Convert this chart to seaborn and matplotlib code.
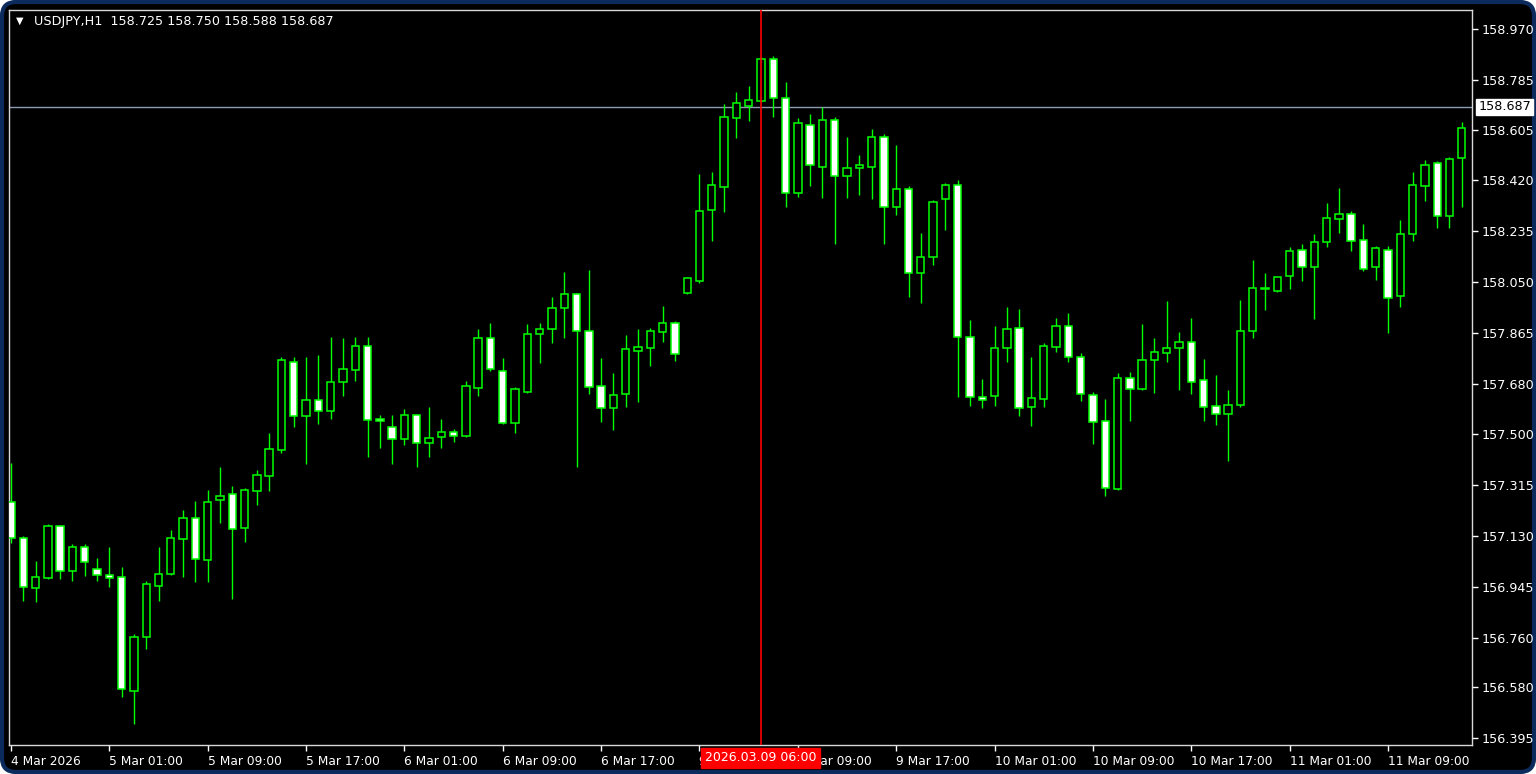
import numpy as np
import pandas as pd
import seaborn as sns
import matplotlib
matplotlib.use("Agg")
import matplotlib.pyplot as plt
from matplotlib.patches import FancyBboxPatch
from matplotlib.transforms import IdentityTransform, blended_transform_factory

# ---------------- data (USDJPY H1) ----------------
opens = [157.253, 157.120, 156.941, 156.975, 157.165, 157.003, 157.088, 157.009, 156.987, 156.981,
         156.567, 156.763, 156.947, 156.991, 157.119, 157.193, 157.041, 157.258, 157.282, 157.158,
         157.293, 157.348, 157.443, 157.762, 157.566, 157.623, 157.583, 157.688, 157.731, 157.819,
         157.552, 157.523, 157.482, 157.567, 157.465, 157.487, 157.506, 157.492, 157.665, 157.847,
         157.729, 157.538, 157.653, 157.861, 157.879, 157.956, 158.009, 157.874, 157.673, 157.592,
         157.643, 157.799, 157.810, 157.871, 157.901, 158.010, 158.055, 158.313, 158.397, 158.648,
         158.691, 158.709, 158.861, 158.720, 158.373, 158.620, 158.469, 158.638, 158.436, 158.464,
         158.469, 158.577, 158.325, 158.388, 158.085, 158.141, 158.353, 158.403, 157.852, 157.635,
         157.638, 157.810, 157.885, 157.598, 157.627, 157.816, 157.891, 157.780, 157.640, 157.545,
         157.298, 157.701, 157.661, 157.767, 157.794, 157.810, 157.834, 157.695, 157.601, 157.572,
         157.603, 157.872, 158.026, 158.017, 158.073, 158.168, 158.107, 158.195, 158.279, 158.297,
         158.203, 158.107, 158.168, 158.000, 158.224, 158.401, 158.482, 158.291, 158.503]
highs = [157.395, 157.129, 157.038, 157.172, 157.168, 157.100, 157.100, 157.050, 157.089, 157.016,
         156.772, 156.965, 157.089, 157.150, 157.223, 157.256, 157.296, 157.378, 157.311, 157.302,
         157.368, 157.502, 157.780, 157.780, 157.780, 157.786, 157.852, 157.847, 157.852, 157.852,
         157.568, 157.568, 157.590, 157.570, 157.596, 157.552, 157.517, 157.692, 157.880, 157.903,
         157.774, 157.669, 157.898, 157.903, 157.998, 158.087, 158.012, 158.094, 157.774, 157.720,
         157.859, 157.880, 157.883, 157.964, 157.910, 158.070, 158.443, 158.450, 158.697, 158.740,
         158.763, 158.868, 158.873, 158.779, 158.646, 158.661, 158.688, 158.650, 158.578, 158.511,
         158.607, 158.590, 158.550, 158.400, 158.228, 158.349, 158.412, 158.422, 157.913, 157.698,
         157.891, 157.959, 157.953, 157.780, 157.831, 157.920, 157.937, 157.792, 157.652, 157.625,
         157.720, 157.724, 157.899, 157.847, 157.982, 157.871, 157.919, 157.770, 157.713, 157.659,
         157.986, 158.131, 158.083, 158.070, 158.177, 158.188, 158.225, 158.338, 158.394, 158.310,
         158.261, 158.182, 158.182, 158.276, 158.451, 158.494, 158.491, 158.506, 158.633]
lows = [157.103, 156.894, 156.889, 156.972, 156.972, 156.966, 156.983, 156.966, 156.944, 156.543,
        156.448, 156.717, 156.894, 156.988, 156.979, 156.963, 156.963, 157.175, 156.900, 157.108,
        157.240, 157.291, 157.431, 157.526, 157.390, 157.537, 157.552, 157.636, 157.692, 157.414,
        157.447, 157.390, 157.458, 157.380, 157.414, 157.447, 157.470, 157.490, 157.636, 157.728,
        157.535, 157.504, 157.650, 157.758, 157.831, 157.849, 157.380, 157.643, 157.542, 157.514,
        157.598, 157.614, 157.747, 157.832, 157.765, 158.008, 158.049, 158.200, 158.306, 158.574,
        158.636, 158.706, 158.651, 158.322, 158.361, 158.400, 158.357, 158.189, 158.357, 158.367,
        158.351, 158.189, 158.296, 157.998, 157.974, 158.112, 158.240, 157.635, 157.602, 157.592,
        157.602, 157.760, 157.564, 157.529, 157.598, 157.798, 157.760, 157.619, 157.463, 157.275,
        157.296, 157.547, 157.658, 157.649, 157.760, 157.659, 157.643, 157.547, 157.532, 157.402,
        157.598, 157.848, 157.949, 158.015, 158.027, 158.055, 157.916, 158.177, 158.228, 158.165,
        158.092, 158.058, 157.865, 157.959, 158.200, 158.345, 158.248, 158.248, 158.322]
closes = [157.120, 156.942, 156.981, 157.165, 157.003, 157.088, 157.035, 156.987, 156.975, 156.573,
          156.763, 156.953, 156.992, 157.120, 157.193, 157.044, 157.253, 157.276, 157.153, 157.296,
          157.349, 157.445, 157.768, 157.566, 157.623, 157.583, 157.689, 157.734, 157.819, 157.550,
          157.546, 157.482, 157.567, 157.465, 157.483, 157.506, 157.493, 157.673, 157.847, 157.734,
          157.538, 157.663, 157.862, 157.879, 157.958, 158.009, 157.873, 157.671, 157.592, 157.641,
          157.807, 157.814, 157.874, 157.901, 157.789, 158.065, 158.309, 158.403, 158.649, 158.700,
          158.711, 158.861, 158.720, 158.375, 158.628, 158.475, 158.638, 158.436, 158.465, 158.476,
          158.577, 158.325, 158.388, 158.085, 158.142, 158.343, 158.403, 157.852, 157.632, 157.621,
          157.812, 157.879, 157.592, 157.629, 157.819, 157.891, 157.778, 157.643, 157.544, 157.303,
          157.701, 157.661, 157.768, 157.796, 157.812, 157.834, 157.688, 157.598, 157.572, 157.605,
          157.874, 158.030, 158.029, 158.069, 158.165, 158.107, 158.197, 158.282, 158.297, 158.201,
          158.099, 158.176, 157.994, 158.224, 158.403, 158.476, 158.291, 158.499, 158.609]

time_tick_bars = [0, 8, 16, 24, 32, 40, 48, 56, 64, 72, 80, 88, 96, 104, 112]
time_tick_labels = ["4 Mar 2026", "5 Mar 01:00", "5 Mar 09:00", "5 Mar 17:00", "6 Mar 01:00",
                    "6 Mar 09:00", "6 Mar 17:00", "9 Mar 01:00", "9 Mar 09:00", "9 Mar 17:00",
                    "10 Mar 01:00", "10 Mar 09:00", "10 Mar 17:00", "11 Mar 01:00", "11 Mar 09:00"]
price_ticks = [158.970, 158.785, 158.605, 158.420, 158.235, 158.050, 157.865, 157.680,
               157.500, 157.315, 157.130, 156.945, 156.760, 156.580, 156.395]
price_tick_labels = ["158.970", "158.785", "158.605", "158.420", "158.235", "158.050", "157.865",
                     "157.680", "157.500", "157.315", "157.130", "156.945", "156.760", "156.580",
                     "156.395"]

symbol = "USDJPY,H1"
header_ohlc = ["158.725", "158.750", "158.588", "158.687"]
bid_price = 158.687
crosshair_bar = 61
crosshair_label = "2026.03.09 06:00"

df = pd.DataFrame({"open": opens, "high": highs, "low": lows, "close": closes})
df["bar"] = np.arange(len(df))
df["bull"] = df["close"] >= df["open"]

# ---------------- style ----------------
sns.set_style("dark", rc={"axes.facecolor": "black", "figure.facecolor": "white",
                          "axes.edgecolor": "#e0e0e0", "axes.grid": False,
                          "xtick.color": "white", "ytick.color": "white",
                          "text.color": "white"})
plt.rcParams["font.family"] = ["DejaVu Sans"]

W, H = 1536, 774
fig = plt.figure(figsize=(W / 100, H / 100), dpi=100)
fig.patch.set_facecolor("white")
frame = FancyBboxPatch((2, 2), W - 4, H - 4, boxstyle="round,pad=0,rounding_size=14",
                       transform=IdentityTransform(), facecolor="black",
                       edgecolor="#0b2b5c", linewidth=3.0, zorder=-10)
fig.patches.append(frame)

left, right, top, bottom = 9, 1472, 10, 745
ax = fig.add_axes([left / W, 1 - bottom / H, (right - left) / W, (bottom - top) / H])
ax.set_zorder(5)
ax.set_facecolor("black")
for s in ax.spines.values():
    s.set_color("#d8d8d8")
    s.set_linewidth(1.0)

green = "#00ff00"
# wicks
ax.vlines(df["bar"], df["low"], df["high"], color=green, linewidth=1.0, zorder=2)
# bodies
body_bottom = np.minimum(df["open"], df["close"])
body_height = np.maximum(np.abs(df["close"] - df["open"]), 0.0015)
face = np.where(df["bull"], "black", "white")
ax.bar(df["bar"], body_height, bottom=body_bottom, width=0.6, color=face,
       edgecolor=green, linewidth=1.1, zorder=3)

# bid line and crosshair
ax.axhline(bid_price, color="#8c9bb0", linewidth=1.0, zorder=1)
ax.axvline(crosshair_bar, color="#ff0000", linewidth=1.2, zorder=4)

ax.set_xlim(-0.16, 118.83)
ax.set_ylim(156.370, 159.039)

# y axis on right
ax.yaxis.tick_right()
ax.set_yticks(price_ticks)
ax.set_yticklabels(price_tick_labels)
ax.tick_params(axis="y", which="both", direction="out", length=4, width=1, pad=3,
               labelsize=9.2, colors="white", right=True, left=False)
# x axis
ax.set_xticks(time_tick_bars)
ax.set_xticklabels(time_tick_labels, ha="left")
ax.tick_params(axis="x", direction="out", length=4, width=1, pad=3, labelsize=8.8,
               colors="white", bottom=True)
for lbl in ax.get_xticklabels():
    lbl.set_x(lbl.get_position()[0])

ax.set_xlabel("")
ax.set_ylabel("")

# bid price label on the right scale
ax.annotate(f"{bid_price:.3f}", xy=(1.0, bid_price),
            xycoords=blended_transform_factory(ax.transAxes, ax.transData),
            xytext=(4.5, 0), textcoords="offset points",
            ha="left", va="center", fontsize=9.2, color="black", zorder=10,
            annotation_clip=False,
            bbox=dict(facecolor="white", edgecolor="white", boxstyle="square,pad=0.15"))

# crosshair time label
ax.annotate(crosshair_label, xy=(crosshair_bar, 0.0),
            xycoords=blended_transform_factory(ax.transData, ax.transAxes),
            xytext=(0, -4.5), textcoords="offset points",
            ha="center", va="top", fontsize=9, color="white", zorder=10,
            annotation_clip=False,
            bbox=dict(facecolor="#ff0000", edgecolor="#ff0000", boxstyle="square,pad=0.3"))

# header
fig.text(16 / W, 1 - 21 / H, "\u25BC", fontsize=7, color="white", ha="left", va="center",
         zorder=20)
fig.text(34 / W, 1 - 21 / H, symbol + "  " + " ".join(header_ohlc), fontsize=9.2,
         color="white", ha="left", va="center", zorder=20)

fig.savefig("out.png", dpi=100, facecolor=fig.get_facecolor())
